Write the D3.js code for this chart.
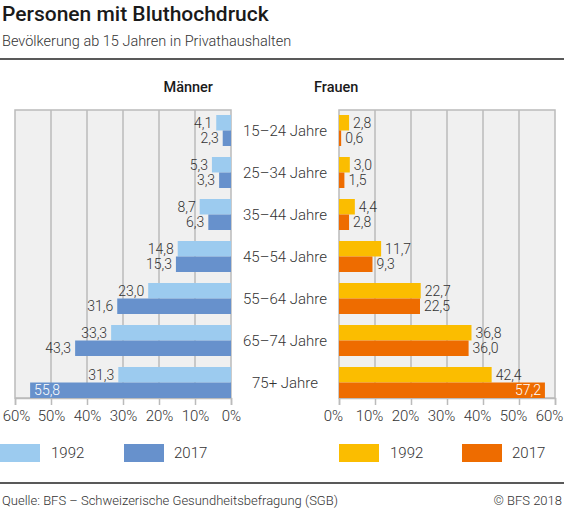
<!DOCTYPE html>
<html><head><meta charset="utf-8">
<script src="https://cdn.jsdelivr.net/npm/d3@7"></script>
<style>
body{margin:0;background:#fff;}
svg text{font-family:Roboto,"Noto Sans",sans-serif;}
</style></head>
<body><svg id="c" width="564" height="509"></svg>
<script>
const categories = ["15–24 Jahre","25–34 Jahre","35–44 Jahre","45–54 Jahre","55–64 Jahre","65–74 Jahre","75+ Jahre"];
const years = ["1992","2017"];
const men1992 = [4.1,5.3,8.7,14.8,23.0,33.3,31.3];
const men2017 = [2.3,3.3,6.3,15.3,31.6,43.3,55.8];
const women1992 = [2.8,3.0,4.4,11.7,22.7,36.8,42.4];
const women2017 = [0.6,1.5,2.8,9.3,22.5,36.0,57.2];
const ticks = [0,10,20,30,40,50,60];

const svg = d3.select("#c");
const fmt = v => d3.format(".1f")(v).replace(".", ",");

svg.append("text").attr("x",2).attr("y",21).attr("font-size",21).attr("font-weight",500).attr("fill","#1a1a1a").text("Personen mit Bluthochdruck");
svg.append("text").attr("x",2).attr("y",46).attr("font-size",14.5).attr("font-weight",300).attr("fill","#333").text("Bevölkerung ab 15 Jahren in Privathaushalten");
svg.append("line").attr("x1",0).attr("x2",564).attr("y1",59).attr("y2",59).attr("stroke","#222").attr("stroke-width",1.5);

const y = d3.scaleBand().domain(categories).range([115,398]).paddingInner(11/42).paddingOuter(0);
const ySub = d3.scaleBand().domain(years).range([0,y.bandwidth()]);
const plotTop = 110, plotBottom = 398;

function panel(x, s1992, s2017, colors, title, titleX, anchor, side) {
  const g = svg.append("g");
  const [r0, r1] = x.range();
  const xl = Math.min(r0, r1), xr = Math.max(r0, r1);
  g.append("rect").attr("x",xl).attr("y",plotTop).attr("width",xr-xl).attr("height",plotBottom-plotTop).attr("fill","#f0f0f0").attr("stroke","#bbb").attr("stroke-width",1.5);
  g.selectAll("line.grid").data(ticks.filter(t=>t>0 && t<60)).join("line")
    .attr("x1",d=>x(d)).attr("x2",d=>x(d)).attr("y1",plotTop).attr("y2",plotBottom).attr("stroke","#bbb").attr("stroke-width",1.5);
  const ax = g.append("g").attr("transform",`translate(0,${plotBottom})`).call(d3.axisBottom(x).tickValues(ticks).tickFormat(d=>d+"%").tickSize(7).tickPadding(5));
  ax.select(".domain").attr("stroke","#bbb").attr("stroke-width",1.5);
  ax.selectAll(".tick line").attr("stroke","#bbb").attr("stroke-width",1.5);
  ax.selectAll(".tick text").attr("font-size",15).attr("font-weight",300).attr("fill","#333").attr("font-family","Roboto,sans-serif");
  if (side > 0) {
    ax.selectAll(".tick text").attr("x", -6);
  } else {
    ax.selectAll(".tick").filter(d => d === 60).select("text").attr("x", 1);
  }
  const series = [[years[0], s1992, colors[0]],[years[1], s2017, colors[1]]];
  series.forEach(([yr, vals, col]) => {
    const data = categories.map((c,i)=>({c, v: vals[i]}));
    g.selectAll(null).data(data).join("rect")
      .attr("x", d => Math.min(x(0), x(d.v)))
      .attr("width", d => Math.abs(x(d.v)-x(0)))
      .attr("y", d => y(d.c)+ySub(yr))
      .attr("height", ySub.bandwidth())
      .attr("fill", col);
    g.selectAll(null).data(data).join("text")
      .attr("x", d => { const inside = d.v > 52; return x(d.v) + side*(inside ? -4 : 4); })
      .attr("y", d => y(d.c)+ySub(yr)+ySub.bandwidth()/2)
      .attr("dy","0.35em")
      .attr("text-anchor", d => { const inside = d.v > 52; return (side>0) !== inside ? "start" : "end"; })
      .attr("font-size",14).attr("font-weight",300)
      .attr("fill", d => d.v > 52 ? "#fff" : "#333")
      .text(d => fmt(d.v));
  });
  svg.append("text").attr("x",titleX).attr("y",92).attr("text-anchor",anchor).attr("font-size",14.5).attr("font-weight",500).attr("fill","#1a1a1a").text(title);
}

const xMen = d3.scaleLinear().domain([0,60]).range([231,15]);
const xWomen = d3.scaleLinear().domain([0,60]).range([339,555]);
panel(xMen, men1992, men2017, ["#9ccbef","#6791cc"], "Männer", 213, "end", -1);
panel(xWomen, women1992, women2017, ["#fbbd00","#ee6c00"], "Frauen", 314, "start", 1);

svg.selectAll("text.cat").data(categories).join("text").attr("class","cat")
  .attr("x",285).attr("y",d=>y(d)+y.bandwidth()/2).attr("dy","0.35em").attr("text-anchor","middle")
  .attr("font-size",15).attr("font-weight",300).attr("fill","#333").text(d=>d);

const legend = [
  {x:0, tx:51, col:"#9ccbef", label:years[0]},
  {x:124, tx:174, col:"#6791cc", label:years[1]},
  {x:339, tx:390, col:"#fbbd00", label:years[0]},
  {x:462, tx:512, col:"#ee6c00", label:years[1]}
];
legend.forEach(l => {
  svg.append("rect").attr("x",l.x).attr("y",444).attr("width",40).attr("height",18).attr("fill",l.col);
  svg.append("text").attr("x",l.tx).attr("y",453).attr("dy","0.35em").attr("font-size",15).attr("font-weight",300).attr("fill","#333").text(l.label);
});

svg.append("line").attr("x1",0).attr("x2",564).attr("y1",483).attr("y2",483).attr("stroke","#222").attr("stroke-width",1.5);
svg.append("text").attr("x",2).attr("y",505).attr("font-size",13).attr("font-weight",300).attr("fill","#333").text("Quelle: BFS – Schweizerische Gesundheitsbefragung (SGB)");
svg.append("text").attr("x",562).attr("y",505).attr("text-anchor","end").attr("font-size",13).attr("font-weight",300).attr("fill","#333").text("© BFS 2018");
</script></body></html>
